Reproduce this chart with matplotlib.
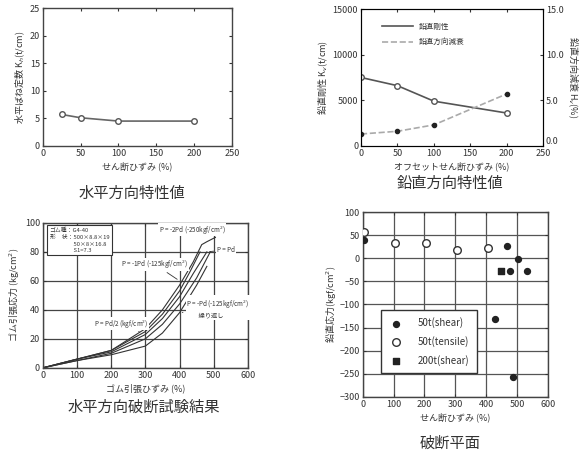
import numpy as np
import matplotlib
matplotlib.use("Agg")
import matplotlib.pyplot as plt

plt.rcParams['font.family'] = ['Noto Sans CJK JP', 'DejaVu Sans']
plt.rcParams['font.size'] = 6.5
plt.rcParams['text.color'] = '#333333'
plt.rcParams['axes.labelcolor'] = '#333333'
plt.rcParams['xtick.color'] = '#333333'
plt.rcParams['ytick.color'] = '#333333'

# --- horizontal stiffness
kh_strain = [25, 50, 100, 200]
kh_value = [5.7, 5.1, 4.5, 4.5]

# --- vertical characteristics
kv_strain = [0, 50, 100, 200]
kv_value = [7500, 6600, 4900, 3600]
hv_value = [1.3, 1.6, 2.3, 5.7]

# --- horizontal breaking test (stress-strain curves)
curve_a_x = [0, 100, 200, 300, 350, 400, 440, 465, 480, 505]
curve_a_y = [0, 6, 12, 27, 40, 57, 73, 85, 87, 90]
curve_b_x = [0, 100, 200, 300, 350, 400, 440, 480]
curve_b_y = [0, 6, 11, 23, 34, 49, 65, 80]
curve_c_x = [0, 100, 200, 300, 350, 400, 430, 460]
curve_c_y = [0, 6, 12, 25, 37, 53, 66, 80]
curve_d_x = [0, 100, 200, 300, 350, 400, 450, 490]
curve_d_y = [0, 5, 10, 20, 30, 44, 62, 80]
curve_e_x = [0, 100, 200, 300, 350, 400, 450, 480]
curve_e_y = [0, 5, 9, 15, 24, 38, 57, 70]

# --- breaking plane
shear50_x = [4, 468, 503, 532, 476, 428, 487]
shear50_y = [40, 26, -2, -28, -28, -131, -258]
tensile50_x = [4, 105, 204, 304, 406]
tensile50_y = [57, 33, 33, 17, 23]
shear200_x = [449]
shear200_y = [-28]

fig = plt.figure(figsize=(5.86, 4.53), dpi=100)

def frame(ax):
    ax.tick_params(direction='in', top=True, right=True, length=2.5, pad=2)
    for s in ax.spines.values():
        s.set_color('#444444')
        s.set_linewidth(1.0)

# top-left
ax1 = fig.add_axes([0.073, 0.678, 0.323, 0.304])
ax1.plot(kh_strain, kh_value, color='#666666', lw=1.2, marker='o', mfc='white',
         mec='#555555', ms=4)
ax1.set_xlim(0, 250)
ax1.set_ylim(0, 25)
ax1.set_xticks(np.arange(0, 251, 50))
ax1.set_yticks(np.arange(0, 26, 5))
frame(ax1)
ax1.set_xlabel('せん断ひずみ (%)', labelpad=3)
ax1.set_ylabel('水平ばね定数 K$_h$(t/cm)', labelpad=2)
fig.text(0.225, 0.574, '水平方向特性値', ha='center', va='center', fontsize=11)

# top-right
ax2 = fig.add_axes([0.616, 0.678, 0.311, 0.302])
l1, = ax2.plot(kv_strain, kv_value, color='#555555', lw=1.2, marker='o', mfc='white',
               mec='#555555', ms=4, label='鉛直剛性')
ax2.set_xlim(0, 250)
ax2.set_ylim(0, 15000)
ax2.set_xticks(np.arange(0, 251, 50))
ax2.set_yticks([0, 5000, 10000, 15000])
ax2.tick_params(direction='in', top=True, length=2.5, pad=2)
for s in ax2.spines.values():
    s.set_color('#444444')
ax2.set_xlabel('オフセットせん断ひずみ (%)', labelpad=3)
ax2.set_ylabel('鉛直剛性 K$_v$(t/cm)', labelpad=2)
ax2b = ax2.twinx()
l2, = ax2b.plot(kv_strain, hv_value, color='#aaaaaa', lw=1.2, ls='--', marker='o',
                mfc='#222222', mec='#222222', ms=3, label='鉛直方向減衰')
ax2b.set_ylim(0, 15)
ax2b.set_yticks([0, 5, 10, 15])
ax2b.set_yticklabels(['0.0', '5.0', '10.0', '15.0'])
ax2b.get_yticklabels()[0].set_va('bottom')
ax2b.tick_params(direction='in', length=2.5, pad=2)
ax2b.set_ylabel('鉛直方向減衰 H$_v$(%)', rotation=270, labelpad=12)
ax2.legend(handles=[l1, l2], loc='upper left', bbox_to_anchor=(0.08, 0.95), frameon=False,
           fontsize=5.5, handlelength=4, markerscale=0, labelspacing=1.0)
fig.text(0.768, 0.596, '鉛直方向特性値', ha='center', va='center', fontsize=11)

# bottom-left
ax3 = fig.add_axes([0.073, 0.188, 0.350, 0.320])
for cx, cy in [(curve_a_x, curve_a_y), (curve_b_x, curve_b_y), (curve_c_x, curve_c_y),
               (curve_d_x, curve_d_y), (curve_e_x, curve_e_y)]:
    ax3.plot(cx, cy, color='#333333', lw=0.8)
ax3.set_xlim(0, 600)
ax3.set_ylim(0, 100)
ax3.set_xticks(np.arange(0, 601, 100))
ax3.set_yticks(np.arange(0, 101, 20))
ax3.grid(True, color='#444444', lw=0.9)
frame(ax3)
ax3.set_xlabel('ゴム引張ひずみ (%)', labelpad=3)
ax3.set_ylabel('ゴム引張応力 (kg/cm$^2$)', labelpad=2)
ax3.text(20, 97, 'ゴム種：G4-40\n形　状：500×8.8×19\n　　　　50×8×16.8\n　　　　S1=7.3',
         fontsize=4.2, va='top', ha='left', linespacing=1.4,
         bbox=dict(boxstyle='square,pad=0.4', fc='white', ec='#333333', lw=0.8))
akw = dict(fontsize=4.5, arrowprops=dict(arrowstyle='-', color='#333333', lw=0.6),
           bbox=dict(boxstyle='square,pad=0.1', fc='white', ec='none'))
ax3.annotate('P = -2Pd (-250kgf/cm$^2$)', xy=(505, 90), xytext=(340, 94), **akw)
ax3.annotate('P = Pd', xy=(480, 80), xytext=(510, 80), **akw)
ax3.annotate('P = -1Pd (-125kgf/cm$^2$)', xy=(400, 60), xytext=(230, 70), **akw)
ax3.annotate('P = Pd/2 (kgf/cm$^2$)', xy=(290, 24), xytext=(150, 29), **akw)
ax3.annotate('P = -Pd (-125kgf/cm$^2$)\n　　繰り返し', xy=(400, 38), xytext=(420, 35), **akw)
fig.text(0.245, 0.102, '水平方向破断試験結果', ha='center', va='center', fontsize=11)

# bottom-right
ax4 = fig.add_axes([0.619, 0.124, 0.316, 0.408])
ax4.scatter(shear50_x, shear50_y, s=18, color='#222222', label='50t(shear)', zorder=3)
ax4.scatter(tensile50_x, tensile50_y, s=30, facecolor='white', edgecolor='#333333',
            label='50t(tensile)', zorder=3)
ax4.scatter(shear200_x, shear200_y, s=18, marker='s', color='#222222', label='200t(shear)',
            zorder=3)
ax4.set_xlim(0, 600)
ax4.set_ylim(-300, 100)
ax4.set_xticks(np.arange(0, 601, 100))
ax4.set_yticks(np.arange(-300, 101, 50))
ax4.grid(True, color='#555555', lw=0.9)
frame(ax4)
ax4.set_xlabel('せん断ひずみ (%)', labelpad=3)
ax4.set_ylabel('鉛直応力(kgf/cm$^2$)', labelpad=1)
ax4.legend(loc='lower left', bbox_to_anchor=(0.07, 0.1), fontsize=7, framealpha=1,
           edgecolor='#333333', fancybox=False, handletextpad=1.5, labelspacing=0.8,
           borderpad=0.8, handlelength=1.5)
fig.text(0.768, 0.022, '破断平面', ha='center', va='center', fontsize=11)

fig.savefig('out.png', dpi=100)
